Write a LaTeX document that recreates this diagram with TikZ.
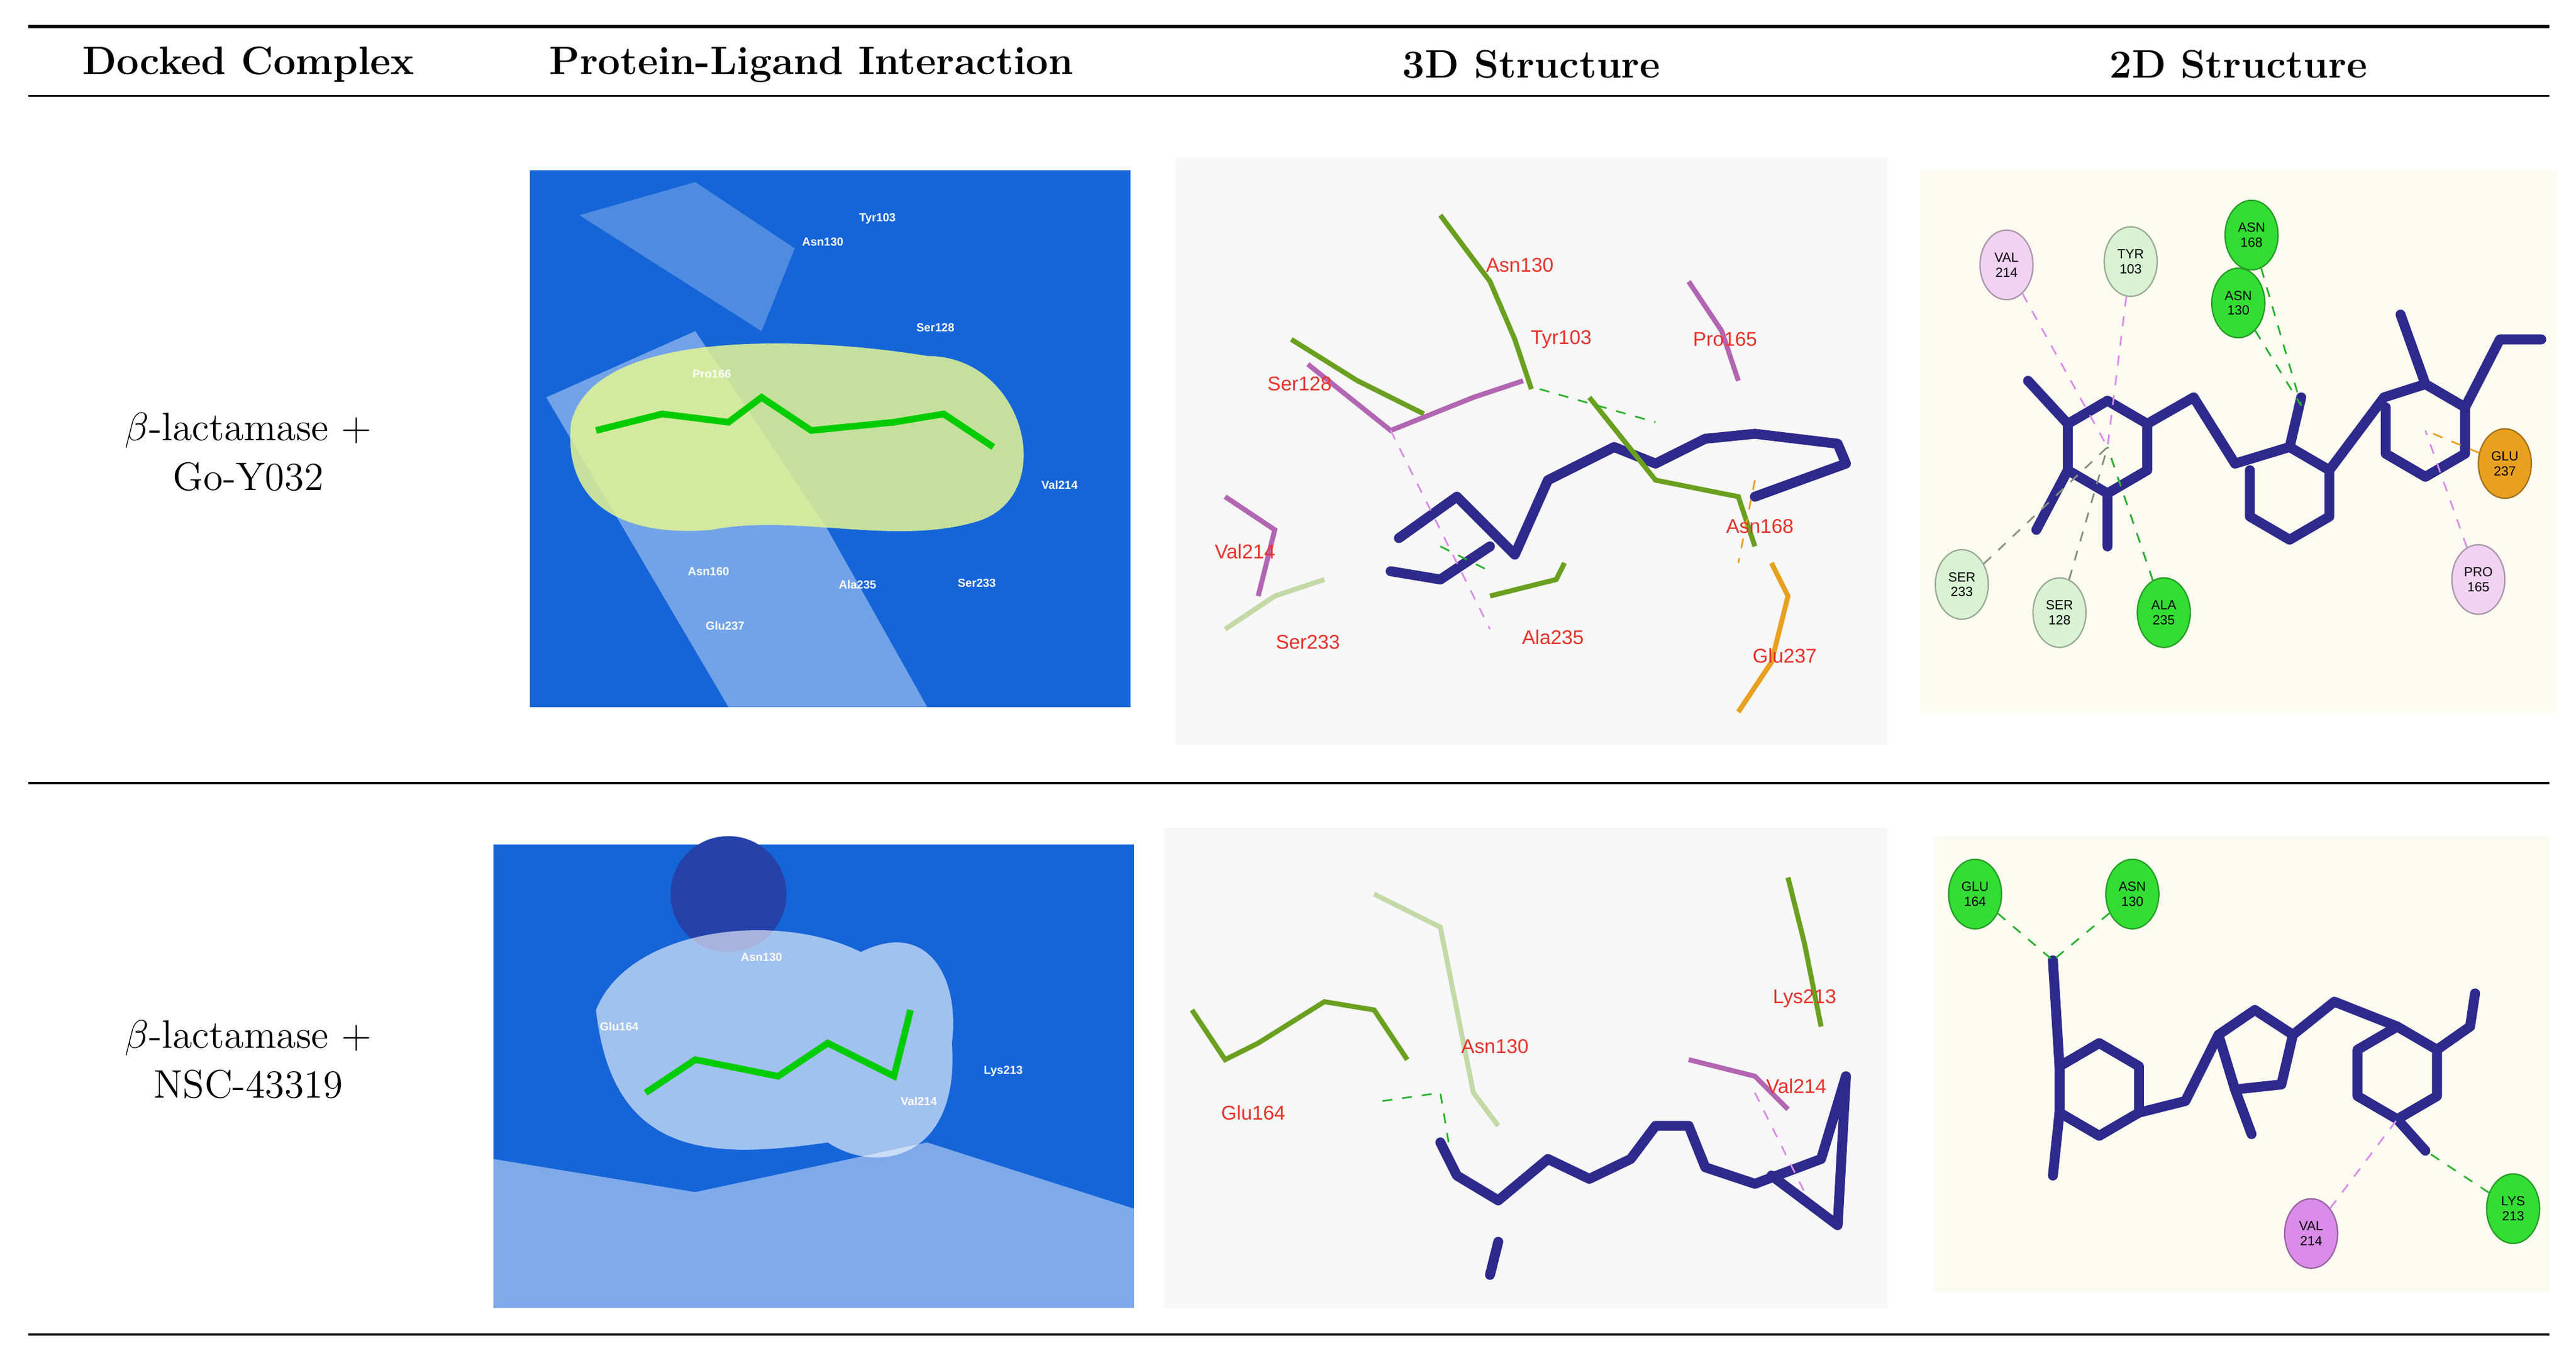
\documentclass[tikz,border=0pt]{standalone}
\usepackage{fontspec}
\setsansfont{Liberation Sans}
\usetikzlibrary{shapes.geometric}
\definecolor{pblue}{HTML}{1565D8}
\definecolor{navy}{HTML}{2E2A8C}
\definecolor{lgreen}{HTML}{D8F2D2}
\definecolor{bgreen}{HTML}{33DD33}
\definecolor{lpink}{HTML}{F2D2F2}
\definecolor{vio}{HTML}{DA8CE8}
\definecolor{gorange}{HTML}{E8A020}
\definecolor{cream}{HTML}{FBFBF1}
\definecolor{resred}{HTML}{E8322A}
\definecolor{olive}{HTML}{6AA020}
\tikzset{x=0.5pt,y=-0.5pt,
 hdr/.style={font=\bfseries\fontsize{12}{14}\selectfont},
 cell/.style={font=\fontsize{12}{15}\selectfont,align=center},
 res/.style={ellipse,draw=#1!70!black,fill=#1,minimum width=16pt,minimum height=21pt,inner sep=0pt,font=\sffamily\fontsize{4}{4.5}\selectfont,align=center},
 rlab/.style={font=\sffamily\fontsize{6}{7}\selectfont,text=resred},
 wlab/.style={font=\sffamily\bfseries\fontsize{3.5}{4}\selectfont,text=white},
 stick/.style={draw=navy,line width=3pt,line join=round,line cap=round},
 hb/.style={draw=bgreen!80!black,dashed,line width=0.5pt},
 pk/.style={draw=vio,dashed,line width=0.5pt},
 og/.style={draw=gorange,dashed,line width=0.5pt}}
\begin{document}
\begin{tikzpicture}
\useasboundingbox (0,0) rectangle (1556,817);
% rules
\draw[line width=1pt] (17,16) -- (1540,16);
\draw[line width=0.6pt] (17,58) -- (1540,58);
\draw[line width=0.6pt] (17,473) -- (1540,473);
\draw[line width=0.6pt] (17,806) -- (1540,806);
\node[hdr] (h1) at (150,39) {Docked Complex};
\node[hdr] (h2) at (490,39) {Protein-Ligand Interaction};
\node[hdr] (h3) at (925,39) {3D Structure};
\node[hdr] (h4) at (1352,39) {2D Structure};
\node[cell] (c1) at (150,273) {$\beta$-lactamase +\\Go-Y032};
\node[cell] (c2) at (150,640) {$\beta$-lactamase +\\NSC-43319};
% ---- protein-ligand panels
\fill[pblue] (320,103) rectangle (683,427);
\fill[pblue!60!white] (330,240) -- (420,200) -- (500,320) -- (560,427) -- (440,427) -- cycle;
\fill[white,opacity=0.25] (350,130) -- (420,110) -- (480,150) -- (460,200) -- cycle;
\fill[lgreen!70!yellow,opacity=0.85] (345,255) .. controls (360,195) and (500,205) .. (560,215) .. controls (620,215) and (640,300) .. (590,315) .. controls (540,330) and (480,310) .. (430,320) .. controls (370,325) and (340,300) .. (345,255);
\draw[green!80!black,line width=2pt] (360,260) -- (400,250) -- (440,255) -- (460,240) -- (490,260) -- (540,255) -- (570,250) -- (600,270);
\foreach \a/\b/\c/\d in {470,110,490,180, 510,130,540,200, 400,150,410,240, 420,300,430,390, 560,300,580,380, 610,230,650,270, 500,310,520,400, 540,160,580,160}
  \draw[black!70!olive,line width=1.5pt] (\a,\b) -- (\c,\d);
\node[wlab] (p1) at (530,132) {Tyr103};
\node[wlab] (p2) at (497,146) {Asn130};
\node[wlab] (p3) at (430,226) {Pro166};
\node[wlab] (p4) at (565,198) {Ser128};
\node[wlab] (p5) at (428,345) {Asn160};
\node[wlab] (p6) at (518,353) {Ala235};
\node[wlab] (p7) at (590,352) {Ser233};
\node[wlab] (p8) at (640,293) {Val214};
\node[wlab] (p9) at (438,378) {Glu237};
\fill[pblue] (298,510) rectangle (685,790);
\fill[pblue!55!white] (298,700) -- (420,720) -- (560,690) -- (685,730) -- (685,790) -- (298,790) -- cycle;
\fill[navy!60!pblue] (440,540) circle (35);
\fill[white,opacity=0.6] (360,610) .. controls (380,560) and (470,550) .. (520,575) .. controls (560,555) and (580,590) .. (575,630) .. controls (580,700) and (530,710) .. (500,690) .. controls (430,700) and (370,700) .. (360,610);
\draw[green!80!black,line width=2pt] (390,660) -- (420,640) -- (470,650) -- (500,630) -- (540,650) -- (550,610);
\foreach \a/\b/\c/\d in {370,580,390,630, 420,570,430,610, 590,600,620,580, 600,640,630,650, 540,690,550,730}
  \draw[red,line width=1.2pt] (\a,\b) -- (\c,\d);
\node[wlab] (q1) at (460,578) {Asn130};
\node[wlab] (q2) at (374,620) {Glu164};
\node[wlab] (q3) at (555,665) {Val214};
\node[wlab] (q4) at (606,647) {Lys213};
% ---- 3D panels
\fill[black!3] (710,95) rectangle (1140,450);
\draw[stick] (845,325) -- (880,300) -- (915,335) -- (935,290) -- (975,270) -- (1000,280) -- (1030,265) -- (1060,262) -- (1110,268) -- (1115,280) -- (1060,300);
\draw[stick] (840,345) -- (870,350) -- (900,330);
\draw[olive,line width=1.5pt] (870,130) -- (900,170) -- (915,205) -- (925,235) (960,240) -- (1000,290) -- (1050,300) -- (1060,330) (900,360) -- (940,350) -- (945,340) (780,205) -- (820,230) -- (860,250);
\draw[violet!60,line width=1.5pt] (790,220) -- (840,260) -- (890,240) -- (920,230) (1020,170) -- (1040,200) -- (1050,230) (740,300) -- (770,320) -- (760,360);
\draw[gorange,line width=1.5pt] (1070,340) -- (1080,360) -- (1070,400) -- (1050,430);
\draw[olive!40!white,line width=1.5pt] (740,380) -- (770,360) -- (800,350);
\draw[hb] (930,235) -- (1000,255);
\draw[hb] (870,330) -- (900,345);
\draw[pk] (840,260) -- (900,380);
\draw[og] (1060,290) -- (1050,340);
\node[rlab] (r1) at (918,160) {Asn130};
\node[rlab] (r2) at (943,205) {Tyr103};
\node[rlab] (r3) at (1042,205) {Pro165};
\node[rlab] (r4) at (785,232) {Ser128};
\node[rlab] (r5) at (752,333) {Val214};
\node[rlab] (r6) at (790,388) {Ser233};
\node[rlab] (r7) at (938,385) {Ala235};
\node[rlab] (r8) at (1063,318) {Asn168};
\node[rlab] (r9) at (1078,396) {Glu237};
\fill[black!3] (703,500) rectangle (1140,790);
\draw[stick] (870,690) -- (880,710) -- (905,725) -- (935,700) -- (960,712) -- (985,700) -- (1000,680) -- (1020,680) -- (1030,705) -- (1060,715) -- (1100,700) -- (1115,650) -- (1110,740) -- (1070,710);
\draw[stick] (905,750) -- (900,770);
\draw[olive,line width=1.5pt] (720,610) -- (740,640) -- (760,630) -- (800,605) -- (830,610) -- (850,640) (1080,530) -- (1090,570) -- (1100,620);
\draw[olive!40!white,line width=1.5pt] (830,540) -- (870,560) -- (880,610) -- (890,660) -- (905,680);
\draw[violet!60,line width=1.5pt] (1020,640) -- (1060,650) -- (1080,670);
\draw[hb] (835,665) -- (870,660) -- (875,690);
\draw[pk] (1060,660) -- (1090,720);
\node[rlab] (s1) at (903,632) {Asn130};
\node[rlab] (s2) at (757,672) {Glu164};
\node[rlab] (s3) at (1090,603) {Lys213};
\node[rlab] (s4) at (1085,656) {Val214};
% ---- 2D panel row 1
\fill[cream] (1160,103) rectangle (1545,430);
\draw[stick] (1273,242) -- (1297,256) -- (1297,284) -- (1273,298) -- (1249,284) -- (1249,256) -- cycle;
\draw[stick] (1297,256) -- (1325,240) -- (1350,280) -- (1383,270) -- (1407,284) -- (1407,312) -- (1383,326) -- (1359,312) -- (1359,284);
\draw[stick] (1407,284) -- (1440,240) -- (1465,232) -- (1489,246) -- (1489,274) -- (1465,288) -- (1441,274) -- (1441,246);
\draw[stick] (1249,256) -- (1225,230) (1249,284) -- (1230,320) (1273,298) -- (1273,330) (1465,232) -- (1450,190) (1489,246) -- (1510,205) -- (1535,205) (1383,270) -- (1390,240);
\coordinate (m1) at (1273,270); \coordinate (m2) at (1383,298); \coordinate (m3) at (1465,260); \coordinate (m4) at (1390,245);
\node[res=lpink] (v214) at (1212,160) {VAL\\214};
\node[res=lgreen] (t103) at (1287,158) {TYR\\103};
\node[res=bgreen] (a168) at (1360,142) {ASN\\168};
\node[res=bgreen] (a130) at (1352,183) {ASN\\130};
\node[res=gorange] (g237) at (1513,280) {GLU\\237};
\node[res=lpink] (p165) at (1497,350) {PRO\\165};
\node[res=lgreen] (s233) at (1185,353) {SER\\233};
\node[res=lgreen] (s128) at (1244,370) {SER\\128};
\node[res=bgreen] (a235) at (1307,370) {ALA\\235};
\draw[pk] (v214) -- (m1); \draw[pk] (t103) -- (m1);
\draw[hb] (a168) -- (m4); \draw[hb] (a130) -- (m4);
\draw[og] (g237) -- (m3); \draw[pk] (p165) -- (m3);
\draw[hb,draw=lgreen!60!black] (s233) -- (m1); \draw[hb,draw=lgreen!60!black] (s128) -- (m1);
\draw[pk] (a235) -- (m1); \draw[hb] (a235) -- (m1);
% ---- 2D panel row 2
\fill[cream] (1168,505) rectangle (1540,780);
\draw[stick] (1268,630) -- (1292,644) -- (1292,672) -- (1268,686) -- (1244,672) -- (1244,644) -- cycle;
\draw[stick] (1292,672) -- (1320,665) -- (1340,625) -- (1362,610) -- (1385,625) -- (1378,655) -- (1350,658) -- (1340,625);
\draw[stick] (1385,625) -- (1410,605) -- (1448,620) -- (1472,634) -- (1472,662) -- (1448,676) -- (1424,662) -- (1424,634) -- (1448,620);
\draw[stick] (1244,644) -- (1240,580) (1244,672) -- (1240,710) (1350,658) -- (1360,685) (1472,634) -- (1492,620) -- (1495,600) (1448,676) -- (1465,695);
\coordinate (n1) at (1240,580); \coordinate (n2) at (1448,676); \coordinate (n3) at (1465,695);
\node[res=bgreen] (e164) at (1193,540) {GLU\\164};
\node[res=bgreen] (b130) at (1288,540) {ASN\\130};
\node[res=vio] (w214) at (1396,745) {VAL\\214};
\node[res=bgreen] (k213) at (1518,730) {LYS\\213};
\draw[hb] (e164) -- (n1); \draw[hb] (b130) -- (n1);
\draw[pk] (w214) -- (n2); \draw[hb] (k213) -- (n3);
\end{tikzpicture}
\end{document}
